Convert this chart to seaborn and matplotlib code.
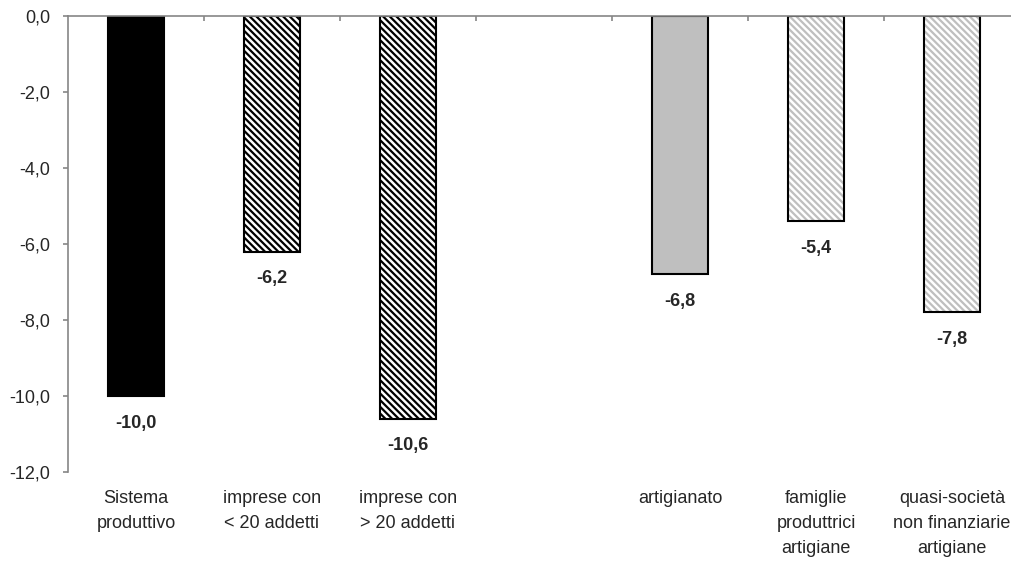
import matplotlib
matplotlib.use('Agg')
import matplotlib.pyplot as plt
import seaborn as sns
import numpy as np
import pandas as pd
from matplotlib.patches import Rectangle

# data
categories = ['Sistema\nproduttivo', 'imprese con\n< 20 addetti', 'imprese con\n> 20 addetti',
              'artigianato', 'famiglie\nproduttrici\nartigiane',
              'quasi-società\nnon finanziarie\nartigiane']
values = [-10.0, -6.2, -10.6, -6.8, -5.4, -7.8]
yticks = [0, -2, -4, -6, -8, -10, -12]
ytick_labels = ['0,0', '-2,0', '-4,0', '-6,0', '-8,0', '-10,0', '-12,0']

# empty slot between the two groups
order = categories[:3] + [' '] + categories[3:]

# bar styles
faces = ['black', 'white', 'white', '#BFBFBF', 'white', 'white']
hatches = [None, '\\\\\\\\\\', '\\\\\\\\\\', None, '\\\\\\\\\\', '\\\\\\\\\\']
hatch_colors = ['black', 'black', 'black', '#BFBFBF', '#BFBFBF', '#BFBFBF']

sns.set_style('white')
plt.rcParams['font.family'] = ['Liberation Sans', 'DejaVu Sans']
plt.rcParams['hatch.linewidth'] = 1.6

df = pd.DataFrame({'cat': categories, 'val': values})

fig = plt.figure(figsize=(10.12, 5.61), dpi=100)
ax = fig.add_axes([68 / 1012, 89 / 561, 952 / 1012, 456 / 561])

sns.barplot(data=df, x='cat', y='val', order=order, width=0.41, color='black',
            errorbar=None, ax=ax)

for p, fc, h, hc in zip(ax.patches, faces, hatches, hatch_colors):
    p.set_facecolor(fc)
    p.set_edgecolor(hc)
    p.set_linewidth(0)
    if h:
        p.set_hatch(h)
    ax.add_patch(Rectangle(p.get_xy(), p.get_width(), p.get_height(), fill=False,
                           edgecolor='black', linewidth=1.5, zorder=p.get_zorder() + 0.1))

for p, v in zip(ax.patches[:len(values)], values):
    ax.annotate(f'{v:.1f}'.replace('.', ','), (p.get_x() + p.get_width() / 2, v),
                xytext=(0, -19.5), textcoords='offset points', ha='center', va='center',
                fontsize=13, fontweight='bold')

grey = '#868686'
ax.set_xlim(-0.5, 6.5)
ax.set_ylim(-12, 0)
ax.set_yticks(yticks)
ax.set_yticklabels(ytick_labels)
ax.set_xlabel('')
ax.set_ylabel('')

ax.set_xticks(np.arange(0.5, 7, 1), minor=True)
ax.tick_params(axis='x', which='major', bottom=True, top=False, length=0, pad=13,
               labelsize=13)
ax.tick_params(axis='x', which='minor', bottom=False, top=True, direction='in',
               length=3.6, width=1.2, color=grey)
ax.tick_params(axis='y', which='major', left=True, direction='out', length=3.6,
               width=1.2, color=grey, pad=9, labelsize=13)
for lab in ax.get_xticklabels():
    lab.set_linespacing(1.6)

for side in ['right', 'bottom']:
    ax.spines[side].set_visible(False)
for side in ['top', 'left']:
    ax.spines[side].set_color(grey)
    ax.spines[side].set_linewidth(1.2)

fig.savefig('out.png', dpi=100)
